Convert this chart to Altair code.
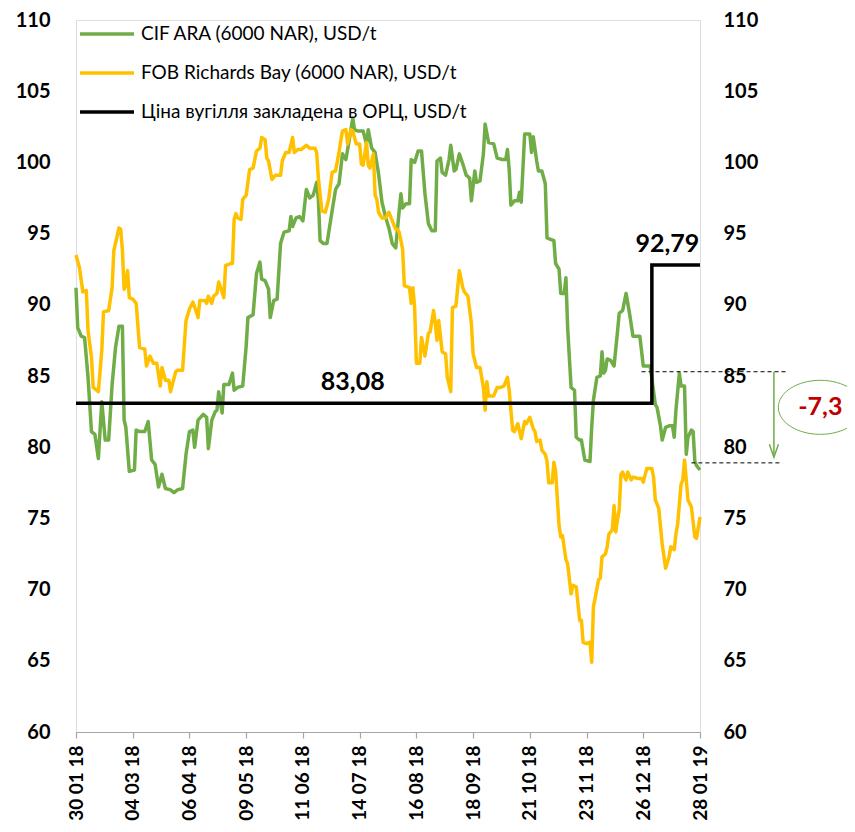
import datetime as dt
import altair as alt
import pandas as pd

START = dt.date(2018, 1, 30)

tick_labels = ["30 01 18", "04 03 18", "06 04 18", "09 05 18", "11 06 18", "14 07 18",
               "16 08 18", "18 09 18", "21 10 18", "23 11 18", "26 12 18", "28 01 19"]
y_ticks = [60, 65, 70, 75, 80, 85, 90, 95, 100, 105, 110]

S_CIF = "CIF ARA (6000 NAR), USD/t"
S_FOB = "FOB Richards Bay (6000 NAR), USD/t"
S_ORC = "Ціна вугілля закладена в ОРЦ, USD/t"

# day offsets from 30.01.2018 and prices
cif_days = [0, 1, 3, 5, 7, 9, 11, 13, 15, 17, 19, 21, 23, 25, 27, 28, 29, 31, 34, 35, 37, 40, 42, 44, 46, 48,
            50, 52, 55, 57, 59, 62, 64, 66, 68, 69, 71, 74, 76, 77, 79, 81, 82, 83, 85, 86, 89, 91, 92, 94,
            97, 99, 100, 103, 105, 107, 108, 110, 112, 113, 115, 117, 119, 121, 124, 125, 126, 128, 130, 132,
            134, 136, 138, 140, 141, 142, 144, 146, 149, 151, 153, 155, 157, 159, 161, 162, 164, 167, 169, 170,
            172, 174, 176, 178, 180, 182, 184, 186, 188, 189, 190, 192, 194, 195, 197, 199, 201, 203, 205, 207,
            209, 210, 212, 213, 215, 217, 218, 220, 221, 223, 225, 227, 229, 230, 232, 233, 235, 237, 238, 240,
            243, 245, 248, 250, 251, 252, 253, 255, 257, 258, 259, 261, 264, 265, 266, 268, 269, 271, 273, 274,
            276, 278, 279, 281, 282, 284, 285, 286, 288, 290, 291, 293, 294, 296, 299, 300, 301, 303, 305, 306,
            307, 308, 309, 311, 313, 315, 316, 318, 320, 322, 324, 328, 330, 334, 337, 338, 340, 341, 343, 345,
            347, 348, 349, 351, 352, 354, 355, 356, 358, 359, 360, 361, 363]
cif_vals = [91.2, 88.4, 87.8, 87.7, 84.9, 81.1, 80.9, 79.2, 83.2, 80.5, 80.5, 84.4, 87.0, 88.5, 88.5, 81.9, 81.4,
            78.3, 78.4, 81.2, 81.1, 81.1, 81.8, 79.1, 78.8, 77.2, 78.1, 77.1, 77.0, 76.8, 77.0, 77.1, 79.5,
            81.1, 81.2, 80.0, 81.9, 82.3, 82.1, 79.9, 81.9, 82.5, 82.6, 83.9, 82.4, 84.4, 84.4, 85.2, 84.0,
            84.2, 84.3, 87.1, 89.1, 89.3, 92.2, 93.0, 91.8, 91.7, 91.1, 89.1, 90.3, 90.4, 94.3, 95.1, 95.2,
            96.2, 95.5, 96.1, 96.2, 95.9, 98.1, 97.5, 97.7, 98.6, 97.4, 94.5, 94.3, 94.3, 96.6, 98.1, 98.5,
            100.6, 100.2, 101.6, 103.1, 102.3, 102.2, 102.2, 101.3, 102.3, 101.0, 100.7, 99.2, 97.2, 96.2,
            95.4, 94.3, 94.0, 96.6, 97.8, 96.8, 97.1, 97.1, 100.2, 100.0, 100.8, 100.8, 97.8, 95.7, 95.2,
            95.2, 100.1, 100.3, 99.3, 99.1, 100.2, 101.2, 99.4, 99.5, 100.6, 99.9, 99.1, 98.9, 97.3, 99.4,
            98.6, 98.7, 100.6, 102.7, 101.4, 101.3, 100.3, 100.2, 100.2, 100.9, 99.5, 97.0, 97.3, 97.3, 97.9,
            97.2, 102.0, 102.0, 100.7, 101.8, 100.1, 99.4, 99.4, 98.5, 94.7, 94.6, 94.5, 92.9, 92.5, 90.8,
            90.8, 91.9, 88.4, 84.2, 84.0, 80.7, 80.5, 80.5, 79.1, 79.0, 81.4, 83.3, 84.9, 85.0, 86.7, 85.2,
            85.4, 86.2, 86.1, 85.7, 88.1, 89.4, 89.6, 90.8, 89.4, 87.8, 87.8, 85.7, 85.7, 83.0, 82.8, 81.5,
            80.5, 81.4, 81.5, 81.5, 80.7, 82.6, 85.2, 84.3, 84.3, 79.5, 80.7, 81.2, 81.1, 79.0, 78.7, 78.4]

fob_days = [0, 2, 4, 6, 7, 9, 10, 13, 15, 16, 19, 21, 22, 25, 26, 27, 28, 29, 30, 31, 33, 35, 37, 40, 41, 43,
            45, 47, 49, 50, 52, 54, 55, 58, 59, 62, 64, 66, 68, 70, 71, 72, 75, 76, 77, 79, 80, 82, 83, 85,
            86, 87, 90, 91, 92, 93, 94, 96, 97, 99, 101, 103, 105, 107, 108, 110, 111, 112, 114, 116, 119,
            120, 122, 124, 126, 127, 129, 131, 134, 136, 139, 140, 141, 143, 145, 147, 149, 151, 153, 154,
            155, 157, 158, 160, 161, 163, 165, 166, 167, 169, 170, 171, 173, 174, 175, 176, 178, 180, 182,
            184, 186, 187, 188, 190, 191, 194, 195, 196, 197, 198, 200, 201, 203, 205, 206, 208, 209, 210,
            211, 213, 215, 216, 218, 219, 221, 223, 225, 226, 228, 230, 231, 233, 235, 237, 238, 239, 240,
            243, 245, 247, 249, 251, 252, 254, 255, 257, 259, 261, 262, 264, 266, 267, 268, 270, 271, 273,
            274, 275, 277, 278, 279, 281, 282, 283, 285, 286, 288, 289, 291, 293, 294, 295, 297, 299, 300,
            301, 302, 304, 305, 306, 308, 309, 310, 312, 313, 314, 315, 316, 317, 318, 320, 321, 323, 324,
            327, 329, 330, 332, 335, 336, 337, 339, 341, 343, 345, 346, 348, 349, 350, 352, 353, 354, 355,
            356, 358, 360, 361, 363]
fob_vals = [93.5, 92.6, 90.9, 91.0, 88.2, 86.3, 84.2, 83.9, 86.8, 89.5, 89.6, 91.2, 93.8, 95.4, 95.3, 93.8, 91.1,
            91.35, 92.4, 90.5, 90.4, 90.1, 87.0, 86.9, 85.7, 86.4, 85.9, 85.9, 84.3, 85.6, 84.7, 84.7, 83.9,
            85.3, 85.4, 85.4, 88.9, 89.7, 90.2, 89.5, 89.1, 90.3, 90.3, 90.1, 90.6, 90.1, 90.6, 90.8, 91.6,
            90.9, 90.5, 92.75, 92.9, 92.9, 96.0, 96.4, 96.1, 96.0, 97.4, 97.7, 99.5, 99.6, 100.8, 101.0,
            101.75, 101.6, 100.3, 100.1, 98.8, 99.1, 99.1, 100.1, 100.7, 100.7, 101.75, 100.7, 100.9, 100.9,
            101.2, 101.0, 101.0, 100.7, 98.9, 96.6, 96.5, 97.4, 99.3, 99.4, 100.7, 101.5, 102.2, 102.3,
            101.3, 102.3, 102.2, 101.3, 101.3, 99.9, 99.8, 101.4, 99.8, 99.6, 100.6, 97.7, 97.4, 96.5, 96.1,
            96.1, 96.5, 95.9, 95.3, 95.3, 95.1, 93.9, 91.35, 91.2, 90.1, 91.2, 89.8, 85.9, 85.9, 87.7, 86.4,
            88.0, 88.1, 89.6, 88.7, 87.5, 88.9, 86.7, 86.55, 84.9, 83.9, 89.8, 89.9, 92.4, 91.2, 90.9, 90.6,
            88.7, 86.55, 85.6, 85.6, 84.2, 82.6, 84.6, 83.6, 83.6, 84.2, 84.2, 84.3, 84.9, 84.0, 81.2, 81.1,
            81.65, 80.6, 81.8, 81.65, 82.1, 81.3, 81.1, 80.4, 80.5, 79.8, 79.5, 79.0, 77.5, 77.5, 78.95, 78.3,
            74.5, 73.7, 73.8, 72.1, 71.8, 69.7, 70.3, 70.2, 67.85, 67.85, 66.3, 66.2, 66.3, 64.9, 68.8, 69.4,
            70.7, 70.8, 72.3, 72.5, 73.0, 73.9, 74.2, 75.9, 74.05, 74.9, 75.6, 78.1, 78.25, 77.7, 78.25, 77.7,
            77.9, 77.8, 77.8, 77.55, 78.5, 78.5, 77.9, 76.3, 75.7, 73.2, 71.5, 72.3, 73.0, 72.8, 73.9, 74.6,
            77.4, 77.7, 79.1, 77.7, 76.3, 75.8, 73.7, 73.6, 75.1]

orc_days = [0, 335, 363]
orc_vals = [83.08, 92.79, 92.79]

# annotation values
orc_label_days = [161, 344]
orc_label_vals = [84.55, 94.25]
dash_day_from = [329, 358]
dash_day_to = [414, 411]
dash_vals = [85.3, 78.9]
arrow_day = 406
arrow_from, arrow_to = 85.3, 79.3
arrow_head_val = 79.75
delta_day = 433
delta_val = 82.8
delta_text = "-7,3"

GREEN, ORANGE, BLACK, RED = "#70AD47", "#FFC000", "#000000", "#C00000"
AXIS_GREY = "#A6A6A6"
FONT = "Lato"


def d2s(d):
    return (START + dt.timedelta(days=int(d))).strftime("%Y-%m-%dT00:00:00")


def dtobj(d):
    return alt.DateTime(year=d.year, month=d.month, date=d.day)


tick_dates = [dt.datetime.strptime(s, "%d %m %y").date() for s in tick_labels]

lines_df = pd.DataFrame(
    [{"date": d2s(d), "value": v, "series": S_CIF} for d, v in zip(cif_days, cif_vals)]
    + [{"date": d2s(d), "value": v, "series": S_FOB} for d, v in zip(fob_days, fob_vals)]
)
orc_df = pd.DataFrame({"date": [d2s(d) for d in orc_days], "value": orc_vals, "series": S_ORC})
lab_df = pd.DataFrame({
    "date": [d2s(d) for d in orc_label_days],
    "value": orc_label_vals,
    "label": [f"{orc_vals[0]:.2f}".replace(".", ","), f"{orc_vals[1]:.2f}".replace(".", ",")],
})
dash_df = pd.DataFrame({
    "date": [d2s(d) for d in dash_day_from],
    "d2": [d2s(d) for d in dash_day_to],
    "value": dash_vals,
})
arrow_df = pd.DataFrame({"date": [d2s(arrow_day)], "value": [arrow_from], "v2": [arrow_to]})
head_df = pd.DataFrame({"date": [d2s(arrow_day)], "value": [arrow_head_val]})
delta_df = pd.DataFrame({"date": [d2s(delta_day)], "value": [delta_val], "label": [delta_text]})

xdomain = [dtobj(tick_dates[0]), dtobj(tick_dates[-1])]
xscale = alt.Scale(domain=xdomain, nice=False)
yscale = alt.Scale(domain=[60, 110], nice=False, zero=False)

x_axis = alt.Axis(
    values=[dtobj(d) for d in tick_dates], format="%d %m %y", labelAngle=-90, labelAlign="right",
    labelBaseline="middle", labelFont=FONT, labelFontSize=19, labelFontWeight="bold", labelColor="black",
    domain=True, domainColor=AXIS_GREY, domainWidth=1.2, ticks=True, tickColor=AXIS_GREY,
    tickSize=6, tickWidth=1.2, labelPadding=7, grid=False, title=None, labelOverlap=False,
    orient="bottom", zindex=1,
)
X = alt.X("date:T", scale=xscale, axis=x_axis, title=None)


def y_axis(orient, pad):
    return alt.Axis(
        orient=orient, values=y_ticks, labelFont=FONT, labelFontSize=20, labelFontWeight="bold",
        labelColor="black", domain=False, domainColor="white", ticks=False, grid=False,
        labelPadding=pad, title=None, labelAlign="right" if orient == "left" else "left",
    )


Y_NOAXIS = alt.Y("value:Q", scale=yscale, axis=None, title=None)

color_scale = alt.Scale(domain=[S_CIF, S_FOB, S_ORC], range=[GREEN, ORANGE, BLACK])
legend = alt.Legend(
    orient="none", legendX=2, legendY=-15, title=None, symbolType="stroke", symbolSize=2916,
    symbolStrokeWidth=3.5, labelFont=FONT, labelFontSize=19, labelColor="black", labelOffset=5,
    rowPadding=-13, padding=0, labelLimit=600, direction="vertical",
)

lines = alt.Chart(lines_df).mark_line(strokeWidth=3.5, strokeJoin="round").encode(
    x=X,
    y=alt.Y("value:Q", scale=yscale, axis=y_axis("left", 26), title=None),
    color=alt.Color("series:N", scale=color_scale, legend=legend),
)

orc = alt.Chart(orc_df).mark_line(strokeWidth=3.5, interpolate="step-after").encode(
    x=X,
    y=alt.Y("value:Q", scale=yscale, axis=y_axis("right", 23), title=None),
    color=alt.Color("series:N", scale=color_scale, legend=legend),
)

labels = alt.Chart(lab_df).mark_text(font=FONT, fontSize=25, fontWeight="bold", color="black",
                                     baseline="middle", align="center").encode(
    x=X, y=Y_NOAXIS, text="label:N",
)

dashes = alt.Chart(dash_df).mark_rule(color="black", strokeWidth=1, strokeDash=[4, 3]).encode(
    x=X, x2="d2:T", y=Y_NOAXIS,
)

arrow = alt.Chart(arrow_df).mark_rule(color=GREEN, strokeWidth=1.5).encode(
    x=X, y=Y_NOAXIS, y2="v2:Q",
)

arrow_head = alt.Chart(head_df).mark_point(
    shape="M -0.7 -1 L 0 1 L 0.7 -1", size=169, filled=False, stroke=GREEN, strokeWidth=1.5, opacity=1
).encode(x=X, y=Y_NOAXIS)

ellipse = alt.Chart(delta_df).mark_point(
    shape="M -1 0 A 1 0.643 0 1 1 1 0 A 1 0.643 0 1 1 -1 0 Z", size=7056, filled=False,
    stroke=GREEN, strokeWidth=1, opacity=1
).encode(x=X, y=Y_NOAXIS)

delta = alt.Chart(delta_df).mark_text(font=FONT, fontSize=25, fontWeight="bold", color=RED,
                                      baseline="middle", align="center").encode(
    x=X, y=Y_NOAXIS, text="label:N",
)

chart = alt.layer(lines, orc, labels, dashes, arrow, arrow_head, ellipse, delta).resolve_axis(
    y="independent"
).properties(
    width=624, height=712,
    autosize=alt.AutoSizeParams(type="none"),
    padding={"left": 68, "top": 12, "right": 147, "bottom": 90},
).configure_view(stroke="white", strokeWidth=2).configure_axis(grid=False).configure_axisY(
    domainColor="white"
).configure(background="white")

chart.save("out.html", embed_options={"renderer": "svg", "actions": False})
